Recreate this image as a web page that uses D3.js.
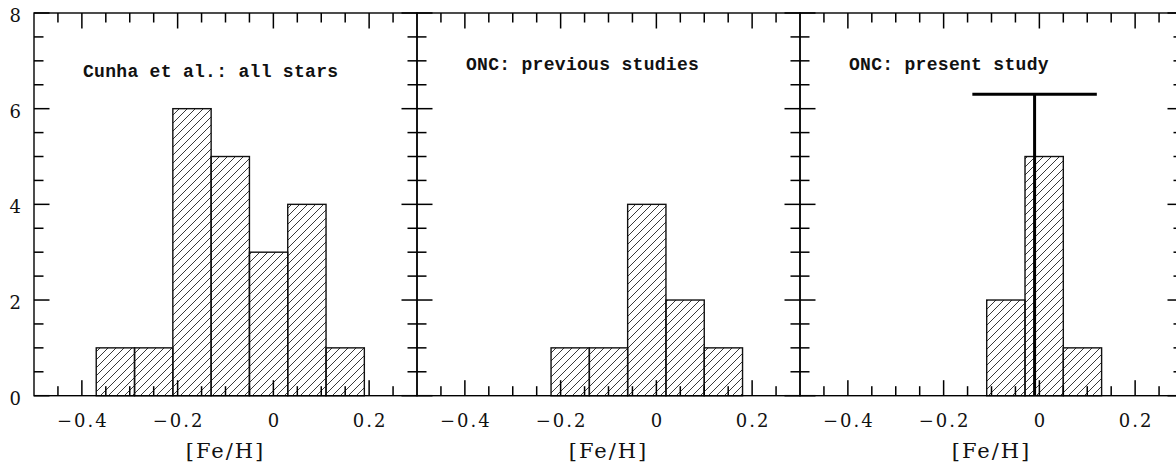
<!DOCTYPE html>
<html>
<head>
<meta charset="utf-8">
<script src="https://cdn.jsdelivr.net/npm/d3@7/dist/d3.min.js"></script>
<style>
  html, body { margin: 0; padding: 0; background: #fff; }
  svg { display: block; }
</style>
</head>
<body>
<svg id="chart" width="1176" height="467"></svg>
<script>
// Histogram panels of [Fe/H]
const panelTitles = ["Cunha et al.: all stars", "ONC: previous studies", "ONC: present study"];
const binWidth = 0.08;
const binStarts = [-0.37, -0.22, -0.11];           // left edge of first bin per panel
const counts1 = [1, 1, 6, 5, 3, 4, 1];
const counts2 = [1, 1, 4, 2, 1];
const counts3 = [2, 5, 1];
const panelCounts = [counts1, counts2, counts3];

// mean and spread marker in the third panel
const meanFeH = -0.01;
const lowFeH = -0.14;
const highFeH = 0.12;
const markerLevel = 6.3;

const xDomain = [-0.5, 0.3];
const yDomain = [0, 8];
const xMajorTicks = [-0.4, -0.2, 0, 0.2];
const xTickLabels = ["\u22120.4", "\u22120.2", "0", "0.2"];
const yMajorTicks = [0, 2, 4, 6, 8];
const yTickLabels = ["0", "2", "4", "6", "8"];
const xLabel = "[Fe/H]";

const svg = d3.select("#chart");
const panelLeft = 34, panelW = 383, plotTop = 13, plotBottom = 395.7;
const majorLen = 15.5, minorLen = 9.5, tickW = 1.5;
const ink = "#111";

const y = d3.scaleLinear().domain(yDomain).range([plotBottom, plotTop]);

// diagonal hatch fill
const defs = svg.append("defs");
const hs = 8;
defs.append("pattern")
  .attr("id", "hatch")
  .attr("patternUnits", "userSpaceOnUse")
  .attr("width", hs).attr("height", hs)
  .append("path")
  .attr("d", `M0,${hs} L${hs},0 M${-hs/2},${hs/2} L${hs/2},${-hs/2} M${hs/2},${hs*1.5} L${hs*1.5},${hs/2}`)
  .attr("stroke", "#222").attr("stroke-width", 0.9).attr("fill", "none");

const xMinor = d3.range(-0.45, 0.3, 0.05).map(v => +v.toFixed(2))
  .filter(v => !xMajorTicks.some(m => Math.abs(m - v) < 1e-6));
const yMinor = d3.range(0.5, 8, 0.5).filter(v => v % 2 !== 0);

const panelLayer = svg.append("g");
const tickLayer = svg.append("g").attr("fill", "#000");

panelCounts.forEach((counts, i) => {
  const x0 = panelLeft + i * panelW;
  const x1 = x0 + panelW;
  const x = d3.scaleLinear().domain(xDomain).range([x0, x1]);
  const g = panelLayer.append("g");

  const bins = counts.map((c, k) => ({
    lo: binStarts[i] + k * binWidth,
    hi: binStarts[i] + (k + 1) * binWidth,
    c
  }));

  // bars
  g.selectAll("rect.bar").data(bins).enter().append("rect")
    .attr("class", "bar")
    .attr("x", d => x(d.lo))
    .attr("y", d => y(d.c))
    .attr("width", d => x(d.hi) - x(d.lo))
    .attr("height", d => y(0) - y(d.c))
    .attr("fill", "url(#hatch)")
    .attr("stroke", ink)
    .attr("stroke-width", 1.4);

  // x tick labels
  g.selectAll("text.xt").data(xMajorTicks).enter().append("text")
    .attr("class", "xt")
    .attr("x", d => x(d) + 1)
    .attr("y", plotBottom + 31.5)
    .attr("text-anchor", "middle")
    .style("font-family", "'DejaVu Serif', serif")
    .style("font-size", "18px")
    .style("letter-spacing", "2px")
    .attr("fill", ink)
    .text((d, k) => xTickLabels[k]);

  // y tick labels on the first panel only
  if (i === 0) {
    g.selectAll("text.yt").data(yMajorTicks).enter().append("text")
      .attr("class", "yt")
      .attr("x", x0 - 13)
      .attr("y", d => y(d) + 9)
      .attr("text-anchor", "end")
      .style("font-family", "'DejaVu Serif', serif")
      .style("font-size", "18px")
      .attr("fill", ink)
      .text((d, k) => yTickLabels[k]);
  }

  // panel title
  g.append("text")
    .attr("x", x0 + 49).attr("y", i === 0 ? 77 : 70)
    .style("font-family", "'Liberation Mono', monospace")
    .style("font-weight", "bold")
    .style("font-size", "18px")
    .style("letter-spacing", "0.3px")
    .attr("fill", ink)
    .text(panelTitles[i]);

  // x label
  g.append("text")
    .attr("x", x0 + panelW / 2).attr("y", 458)
    .attr("text-anchor", "middle")
    .style("font-family", "'DejaVu Serif', serif")
    .style("font-size", "21px")
    .style("letter-spacing", "2px")
    .attr("fill", ink)
    .text(xLabel);

  if (i === 2) {
    g.append("line")
      .attr("x1", x(meanFeH)).attr("x2", x(meanFeH))
      .attr("y1", y(0)).attr("y2", y(markerLevel))
      .attr("stroke", "#000").attr("stroke-width", 3);
    g.append("line")
      .attr("x1", x(lowFeH)).attr("x2", x(highFeH))
      .attr("y1", y(markerLevel)).attr("y2", y(markerLevel))
      .attr("stroke", "#000").attr("stroke-width", 3);
  }

  // frame
  g.append("rect")
    .attr("x", x0).attr("y", plotTop)
    .attr("width", panelW).attr("height", plotBottom - plotTop)
    .attr("fill", "none").attr("stroke", "#000").attr("stroke-width", 1.4);

  // inward ticks on all four sides, drawn as thin filled bars
  const tg = tickLayer.append("g");
  const xTickSet = xMajorTicks.map(v => ({ v, len: majorLen })).concat(xMinor.map(v => ({ v, len: minorLen })));
  const yTickSet = yMajorTicks.map(v => ({ v, len: majorLen })).concat(yMinor.map(v => ({ v, len: minorLen })));

  tg.selectAll("rect.xb").data(xTickSet).enter().append("rect")
    .attr("class", "xb")
    .attr("x", d => x(d.v) - tickW / 2).attr("y", d => plotBottom - d.len)
    .attr("width", tickW).attr("height", d => d.len);
  tg.selectAll("rect.xtp").data(xTickSet).enter().append("rect")
    .attr("class", "xtp")
    .attr("x", d => x(d.v) - tickW / 2).attr("y", plotTop)
    .attr("width", tickW).attr("height", d => d.len);
  tg.selectAll("rect.yl").data(yTickSet).enter().append("rect")
    .attr("class", "yl")
    .attr("x", x0).attr("y", d => y(d.v) - tickW / 2)
    .attr("width", d => d.len).attr("height", tickW);
  tg.selectAll("rect.yr").data(yTickSet).enter().append("rect")
    .attr("class", "yr")
    .attr("x", d => x1 - d.len).attr("y", d => y(d.v) - tickW / 2)
    .attr("width", d => d.len).attr("height", tickW);
});
</script>
</body>
</html>
